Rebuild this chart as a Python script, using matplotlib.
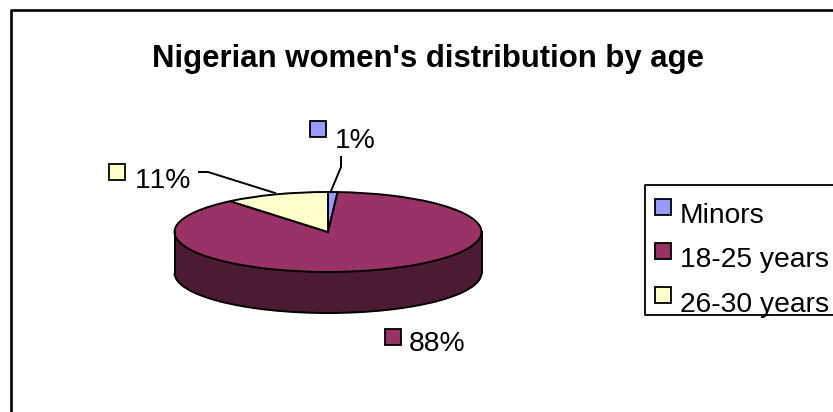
import matplotlib
matplotlib.use("Agg")
import matplotlib.pyplot as plt
from matplotlib.patches import Rectangle, Arc

plt.rcParams['font.family'] = ['Liberation Sans', 'DejaVu Sans']
plt.rcParams['text.kerning_factor'] = 6

W, H = 833, 412
categories = ['Minors', '18-25 years', '26-30 years']
values = [1, 88, 11]
pct_labels = ['1%', '88%', '11%']
colors = ['#9999FF', '#993366', '#FFFFCC']
side_color = '#4D1A33'
title = "Nigerian women's distribution by age"

fig = plt.figure(figsize=(W / 100, H / 100), dpi=100, facecolor='white')

# overlay in pixel coordinates for frame, text and legend
ov = fig.add_axes([0, 0, 1, 1], zorder=3)
ov.set_xlim(0, W)
ov.set_ylim(H, 0)
ov.axis('off')
ov.patch.set_alpha(0)

cx, cy, rx, ry, depth = 328, 232, 153.5, 40, 41
ax = fig.add_axes([(cx - rx) / W, 1 - (cy + ry) / H, 2 * rx / W, 2 * ry / H], zorder=2)
lw = 1.4
d = depth / ry
ax.pie(values, colors=[side_color] * 3, startangle=90, counterclock=False, radius=1,
       center=(0, -d), wedgeprops=dict(edgecolor=side_color, linewidth=0.5, clip_on=False))
ax.add_patch(Rectangle((-1, -d), 2, d, facecolor=side_color, edgecolor='none', clip_on=False))
ax.plot([-1, -1], [0, -d], color='black', lw=lw, clip_on=False)
ax.plot([1, 1], [0, -d], color='black', lw=lw, clip_on=False)
ax.add_patch(Arc((0, -d), 2, 2, theta1=180, theta2=360, color='black', lw=lw, clip_on=False))
ax.pie(values, colors=colors, startangle=90, counterclock=False, radius=1,
       wedgeprops=dict(edgecolor='black', linewidth=lw, clip_on=False))
ax.set_aspect('auto')
ax.set_xlim(-1, 1)
ax.set_ylim(-1, 1)

# chart frame (runs off the right and bottom of the image)
ov.plot([11, 11, W + 5], [H + 5, 9.5, 9.5], color='black', lw=1.9, clip_on=False)

ov.text(428.5, 58.5, title, ha='center', va='center', fontsize=22.4, fontweight='bold', color='black')


def swatch(x, y, color, size=16):
    ov.add_patch(Rectangle((x, y), size, size, facecolor=color, edgecolor='black', lw=1.3))


FS = 20.3
# percent labels
swatch(310, 121, colors[0])
ov.text(335, 141, pct_labels[0], fontsize=FS, ha='left', va='center')
swatch(109.5, 164, colors[2])
ov.text(135, 181, pct_labels[2], fontsize=FS, ha='left', va='center')
swatch(385.5, 329, colors[1])
ov.text(409, 344, pct_labels[1], fontsize=FS, ha='left', va='center')

# leader lines
ov.plot([341, 341, 331], [157, 167, 191], color='black', lw=1.4)
ov.plot([199, 208, 275], [172, 172, 193], color='black', lw=1.4)

# legend
ov.plot([W + 5, 645.5, 645.5, W + 5], [185, 185, 315, 315], color='black', lw=1.3, clip_on=False)
for name, col, y, ty in zip(categories, colors, [199, 243, 287], [216, 260, 305]):
    swatch(655, y, col)
    ov.text(680, ty, name, fontsize=FS, ha='left', va='center')

fig.savefig('out.png', dpi=100, facecolor='white')
